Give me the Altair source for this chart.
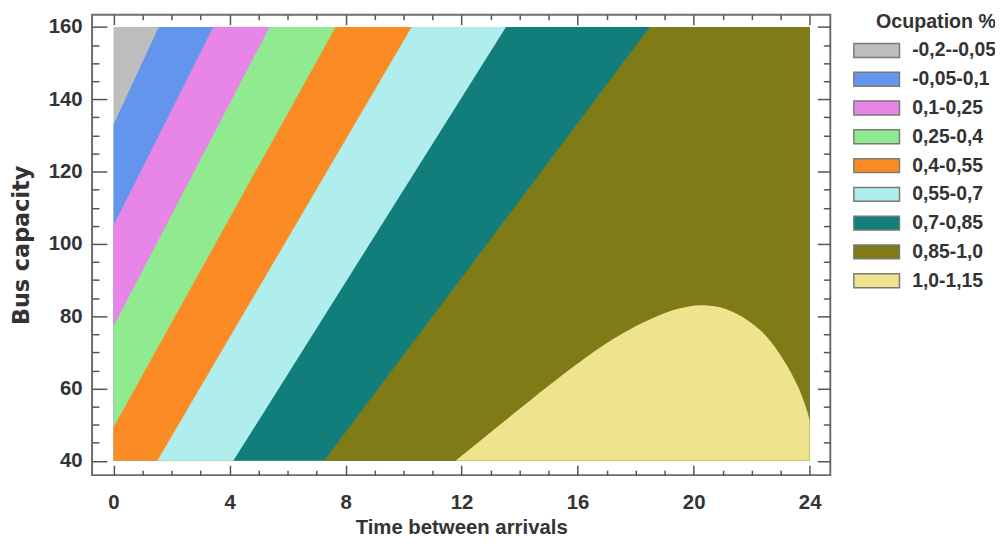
import altair as alt
import pandas as pd

# ---------------- data ----------------
LABELS = ["-0,2--0,05", "-0,05-0,1", "0,1-0,25", "0,25-0,4", "0,4-0,55",
          "0,55-0,7", "0,7-0,85", "0,85-1,0", "1,0-1,15"]
COLORS = ["#bebebe", "#6495ed", "#e885e8", "#90eb90", "#fb8b24",
          "#b0eeee", "#127e7b", "#7f7b17", "#efe48e"]

X_TICKS = [0, 4, 8, 12, 16, 20, 24]
X_MINOR = [1, 2, 3, 5, 6, 7, 9, 10, 11, 13, 14, 15, 17, 18, 19, 21, 22, 23]
Y_TICKS = [40, 60, 80, 100, 120, 140, 160]
Y_MINOR = [45, 50, 55, 65, 70, 75, 85, 90, 95, 105, 110, 115, 125, 130, 135, 145, 150, 155]

X_EDGE = [0, 24]
Y_EDGE = [40, 160]

# contour boundaries: x (time) at a given y (capacity); each band lies to the right
B0_Y = [40, 160];          B0_X = [0, 0]
B1_Y = [40, 133.0, 160];   B1_X = [0, 0, 1.56]
B2_Y = [40, 105.1, 160];   B2_X = [0, 0, 3.44]
B3_Y = [40, 77.2, 160];    B3_X = [0, 0, 5.38]
B4_Y = [40, 49.3, 160];    B4_X = [0, 0, 7.66]
B5_Y = [40, 160];          B5_X = [1.51, 10.28]
B6_Y = [40, 160];          B6_X = [4.13, 13.53]
B7_Y = [40, 160];          B7_X = [7.26, 18.49]
# 1.0 contour: capacity as a function of time; band lies below it
B8_X = [11.82, 13.42, 15.0, 16.5, 17.5, 18.5, 19.4, 20.26, 21.1, 21.97, 22.54, 23.11, 23.68, 23.96, 24.0]
B8_Y = [40.2, 50.6, 60.9, 70.0, 75.2, 79.3, 82.2, 83.4, 82.5, 78.6, 74.5, 68.1, 59.8, 52.5, 51.2]

# ---------------- styling ----------------
FONT = "Liberation Sans, Arial, Helvetica, sans-serif"
TXT = "#333333"

xscale = alt.Scale(domain=[-0.74, 24.71], nice=False, zero=False)
yscale = alt.Scale(domain=[36.05, 163.4], nice=False, zero=False)

color = alt.Color(
    "band:N",
    scale=alt.Scale(domain=LABELS, range=COLORS),
    legend=alt.Legend(
        title="Ocupation %", orient="none", legendX=781, legendY=-3, padding=0,
        symbolType="M-3,-0.913L3,-0.913L3,0.913L-3,0.913Z", symbolSize=235,
        symbolStrokeColor="#7a7a7a", symbolStrokeWidth=1.5, symbolOpacity=1,
        labelFont=FONT, labelFontSize=19.5, labelFontWeight="bold", labelColor=TXT,
        labelOffset=26, rowPadding=8.0,
        titleFont=FONT, titleFontSize=19.8, titleFontWeight="bold", titleColor=TXT,
        titleAnchor="end", titlePadding=9.5,
    ),
)


def xaxis(orient, values, size, labels):
    return alt.Axis(orient=orient, values=values, tickSize=size, offset=-size,
                    labels=labels, domain=False, grid=False, format="d",
                    labelPadding=18, titlePadding=4)


def yaxis(orient, values, size, labels):
    return alt.Axis(orient=orient, values=values, tickSize=size, offset=-size,
                    labels=labels, domain=False, grid=False, format="d",
                    labelPadding=10, titlePadding=15,
                    titleFont="DejaVu Sans", titleFontSize=22.5)


axis_sets = [
    (xaxis("bottom", X_TICKS, 10, True), "Time between arrivals",
     yaxis("left", Y_TICKS, 15, True), "Bus capacity"),
    (xaxis("bottom", X_MINOR, 5, False), None, yaxis("left", Y_MINOR, 7, False), None),
    (xaxis("top", X_TICKS, 10, False), None, yaxis("right", Y_TICKS, 13, False), None),
    (xaxis("top", X_MINOR, 5, False), None, yaxis("right", Y_MINOR, 7, False), None),
]

bounds = [(B0_X, B0_Y), (B1_X, B1_Y), (B2_X, B2_Y), (B3_X, B3_Y), (B4_X, B4_Y),
          (B5_X, B5_Y), (B6_X, B6_Y), (B7_X, B7_Y)]

layers = []
for i, (bx, by) in enumerate(bounds):
    df = pd.DataFrame({"x": bx, "y": by, "xr": [X_EDGE[1]] * len(bx), "band": LABELS[i]})
    if i < len(axis_sets):
        xa, xt, ya, yt = axis_sets[i]
        xenc = alt.X("x:Q", scale=xscale, axis=xa, title=xt, stack=None)
        yenc = alt.Y("y:Q", scale=yscale, axis=ya, title=yt)
    else:
        xenc = alt.X("x:Q", scale=xscale, axis=None, stack=None)
        yenc = alt.Y("y:Q", scale=yscale, axis=None)
    layers.append(
        alt.Chart(df).mark_area(orient="horizontal", opacity=1).encode(
            x=xenc, x2="xr:Q", y=yenc, color=color
        )
    )

df8 = pd.DataFrame({"x": B8_X, "y": B8_Y, "y0": [Y_EDGE[0]] * len(B8_X), "band": LABELS[8]})
layers.append(
    alt.Chart(df8).mark_area(orient="vertical", interpolate="basis", opacity=1).encode(
        x=alt.X("x:Q", scale=xscale, axis=None),
        y=alt.Y("y:Q", scale=yscale, axis=None, stack=None),
        y2="y0:Q",
        color=color,
    )
)

chart = (
    alt.layer(*layers)
    .resolve_axis(x="independent", y="independent")
    .properties(
        width=744, height=464,
        autosize=alt.AutoSizeParams(type="none"),
        padding={"left": 84.7, "top": 4.7, "right": 166, "bottom": 61.3},
        background="white",
    )
    .configure_view(stroke="#6e6e6e", strokeWidth=2)
    .configure_axis(
        labelFont=FONT, labelFontSize=20.5, labelFontWeight="bold", labelColor=TXT,
        tickColor="#555555", tickWidth=1.5,
        titleFont=FONT, titleFontSize=20.5, titleFontWeight="bold", titleColor=TXT,
    )
)

chart.save("out.html", embed_options={"renderer": "svg", "actions": False})
